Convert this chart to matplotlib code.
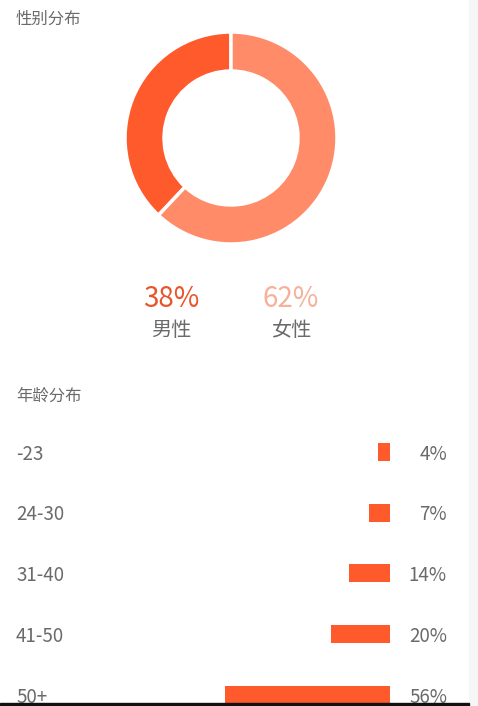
import matplotlib
matplotlib.use("Agg")
import matplotlib.pyplot as plt
import matplotlib.transforms as mtransforms
from matplotlib.patches import Rectangle

plt.rcParams['font.family'] = ['Noto Sans CJK SC', 'DejaVu Sans']

# data
gender_labels = ['男性', '女性']
gender_values = [38, 62]
age_labels = ['-23', '24-30', '31-40', '41-50', '50+']
age_values = [4, 7, 14, 20, 56]

W, H = 478, 706
dark = '#FF5A2B'
light = '#FF8B69'
gray = '#6A6A6A'

fig = plt.figure(figsize=(W / 100, H / 100), dpi=100)
fig.patch.set_facecolor('white')

def fx(px):
    return px / W

def fy(py):
    return 1 - py / H

# right gray strip and bottom line
fig.add_artist(Rectangle((fx(469), 0), fx(W - 469), 1, transform=fig.transFigure,
                         color='#F6F6F6', zorder=0))
fig.add_artist(Rectangle((0, fy(705)), fx(469), 2.5 / H, transform=fig.transFigure,
                         color='#111111', zorder=5))

# titles
fig.text(fx(16), fy(19), '性别分布', fontsize=11.8, color=gray, va='center', ha='left')
fig.text(fx(16), fy(396), '年龄分布', fontsize=11.8, color=gray, va='center', ha='left')

# donut
cx, cy, r_out, r_in = 231, 138, 106, 67
ax1 = fig.add_axes([fx(cx - r_out), fy(cy + r_out), 2 * r_out / W, 2 * r_out / H])
ax1.pie(gender_values, colors=[dark, light], startangle=90, counterclock=True,
        radius=1, wedgeprops=dict(width=(r_out - r_in) / r_out, edgecolor='white', linewidth=2.5))
ax1.set_xlim(-1, 1)
ax1.set_ylim(-1, 1)
ax1.set_aspect('auto')
ax1.axis('off')

# percent + labels under donut
pct_colors = ['#E8552C', '#F6B19A']
for i, (lab, val) in enumerate(zip(gender_labels, gender_values)):
    x = 171 + i * 120
    fig.text(fx(x), fy(299), f'{val}%', fontsize=20, color=pct_colors[i],
             ha='center', va='center')
    fig.text(fx(x), fy(331), lab, fontsize=14.5, color=gray, ha='center', va='center')

# age bars
px_per_pct = 2.946
bar_right = 390
top_px, step = 451.7, 60.8
ax2 = fig.add_axes([0, 0, fx(bar_right), fy(top_px - step / 2)])
ax2.barh(range(len(age_values)), age_values, height=18 / step, color=dark)
ax2.set_xlim(bar_right / px_per_pct, 0)
ax2.set_ylim(-0.5 + (H - (top_px - step / 2)) / step, -0.5)
ax2.axis('off')

trans = mtransforms.blended_transform_factory(fig.transFigure, ax2.transData)
for i, (lab, val) in enumerate(zip(age_labels, age_values)):
    ax2.text(fx(16), i + 0.04, lab, transform=trans, fontsize=13.5, color=gray,
             ha='left', va='center', clip_on=False)
    ax2.text(fx(447), i + 0.04, f'{val}%', transform=trans, fontsize=13.5, color=gray,
             ha='right', va='center', clip_on=False)

fig.savefig('out.png', dpi=100, facecolor='white')
